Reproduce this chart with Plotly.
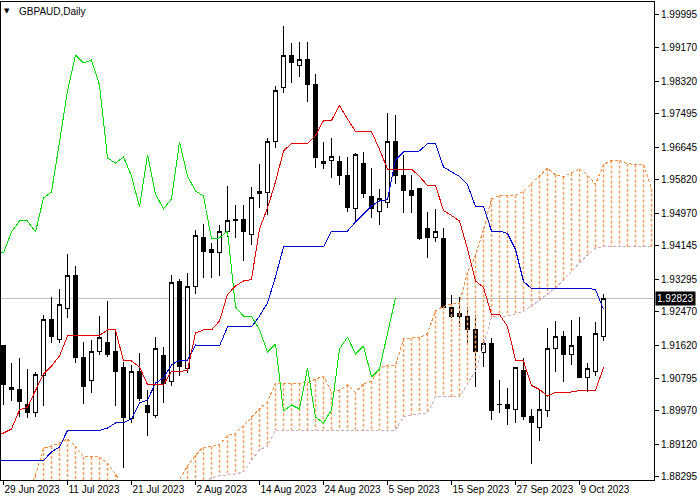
import plotly.graph_objects as go

# ---------------- data ----------------
tick_bars = [0, 8, 16, 24, 32, 40, 48, 56, 64, 72]
tick_labels = ["29 Jun 2023", "11 Jul 2023", "21 Jul 2023", "2 Aug 2023", "14 Aug 2023",
               "24 Aug 2023", "5 Sep 2023", "15 Sep 2023", "27 Sep 2023", "9 Oct 2023"]

price_ticks = [1.99995, 1.99170, 1.98320, 1.97495, 1.96645, 1.95820, 1.94970, 1.94145,
               1.93295, 1.92470, 1.91620, 1.90795, 1.89970, 1.89120, 1.88295]

opens = [1.91607, 1.90543, 1.90517, 1.90137, 1.89909, 1.90847, 1.92291, 1.91784, 1.92545, 1.93406,
         1.91303, 1.90745, 1.91455, 1.91708, 1.91480, 1.91050, 1.89757, 1.90948, 1.90087, 1.89833,
         1.91354, 1.90695, 1.93229, 1.91024, 1.93102, 1.94344, 1.94040, 1.93964, 1.94496, 1.94800,
         1.94800, 1.94420, 1.95459, 1.95484, 1.96777, 1.98170, 1.98956, 1.98703, 1.98855, 1.98221,
         1.96270, 1.96295, 1.96270, 1.95940, 1.95079, 1.96244, 1.95383, 1.95003, 1.95231, 1.96777,
         1.95915, 1.95560, 1.95586, 1.94597, 1.94344, 1.94319, 1.92595, 1.92443, 1.92342, 1.92013,
         1.91430, 1.91658, 1.90137, 1.90112, 1.89985, 1.90974, 1.89808, 1.89554, 1.89960, 1.91531,
         1.91835, 1.91404, 1.91835, 1.90821, 1.90948, 1.91860]
highs = [1.91632, 1.91176, 1.91303, 1.91024, 1.90948, 1.92393, 1.92849, 1.93051, 1.93938, 1.93634,
         1.91708, 1.91759, 1.92367, 1.92747, 1.92038, 1.91202, 1.91126, 1.91430, 1.90492, 1.91835,
         1.91582, 1.93406, 1.93305, 1.93457, 1.94547, 1.94699, 1.94217, 1.94673, 1.95662, 1.95180,
         1.95180, 1.95636, 1.96219, 1.96878, 1.98196, 1.99716, 1.99285, 1.99311, 1.99311, 1.98500,
         1.96777, 1.96878, 1.96422, 1.96397, 1.96498, 1.96523, 1.96118, 1.95586, 1.97511, 1.97461,
         1.96447, 1.95940, 1.95611, 1.95003, 1.95079, 1.94597, 1.92899, 1.92849, 1.92595, 1.92393,
         1.91784, 1.91810, 1.90745, 1.90543, 1.91075, 1.91303, 1.90011, 1.90492, 1.92063, 1.92241,
         1.91987, 1.92266, 1.92342, 1.91176, 1.92215, 1.92925]
lows = [1.90112, 1.90213, 1.89808, 1.89783, 1.89808, 1.90087, 1.91683, 1.91683, 1.92317, 1.91176,
        1.90137, 1.90416, 1.91379, 1.91328, 1.90087, 1.88515, 1.89656, 1.90213, 1.89326, 1.89783,
        1.90163, 1.90593, 1.90847, 1.90923, 1.92925, 1.93330, 1.93330, 1.93381, 1.94369, 1.94344,
        1.93761, 1.94167, 1.95104, 1.94927, 1.96625, 1.98018, 1.98272, 1.98424, 1.97790, 1.96118,
        1.96092, 1.95864, 1.95687, 1.95003, 1.94775, 1.95358, 1.94851, 1.94673, 1.95104, 1.95712,
        1.94977, 1.94977, 1.94293, 1.93837, 1.94243, 1.92570, 1.92317, 1.92089, 1.91683, 1.90568,
        1.91075, 1.89732, 1.89909, 1.89605, 1.89656, 1.89732, 1.88617, 1.89200, 1.89808, 1.90948,
        1.90695, 1.91126, 1.90796, 1.90441, 1.90847, 1.91734]
closes = [1.90619, 1.90492, 1.90188, 1.89909, 1.90872, 1.92291, 1.91835, 1.92671, 1.93406, 1.91303,
          1.90568, 1.91455, 1.91810, 1.91379, 1.90948, 1.89783, 1.90948, 1.90289, 1.89909, 1.91531,
          1.90644, 1.93204, 1.91075, 1.93102, 1.94395, 1.93989, 1.93964, 1.94496, 1.94775, 1.94775,
          1.94496, 1.95358, 1.95510, 1.96777, 1.98069, 1.98981, 1.98779, 1.98855, 1.98221, 1.96371,
          1.96244, 1.96397, 1.95915, 1.95129, 1.96447, 1.95459, 1.95079, 1.95332, 1.96777, 1.95915,
          1.95535, 1.95408, 1.94319, 1.94344, 1.94521, 1.92595, 1.92367, 1.92367, 1.92013, 1.91455,
          1.91658, 1.89960, 1.90112, 1.90011, 1.91050, 1.89808, 1.89656, 1.89985, 1.91531, 1.91835,
          1.91404, 1.91607, 1.90821, 1.91024, 1.91936, 1.92823]

# Tenkan-sen / Kijun-sen, bars -1 .. 75
tenkan = [1.89377, 1.89402, 1.89504, 1.89985, 1.90061, 1.90492, 1.90897, 1.91100, 1.91354,
          1.91860, 1.91860, 1.91860, 1.91860, 1.91873, 1.92013, 1.92013, 1.91227, 1.91227, 1.91075,
          1.90631, 1.90631, 1.90631, 1.90961, 1.90961, 1.90986, 1.91936, 1.92013, 1.92013, 1.92241,
          1.92912, 1.93128, 1.93254, 1.93292, 1.94572, 1.95104, 1.95763, 1.96549, 1.96739, 1.96739,
          1.96739, 1.96941, 1.97321, 1.97321, 1.97702, 1.97359, 1.97043, 1.97043, 1.97043, 1.96587,
          1.96092, 1.96092, 1.96092, 1.96092, 1.95902, 1.95674, 1.95674, 1.95041, 1.94914, 1.94775,
          1.94065, 1.93254, 1.93090, 1.92405, 1.92405, 1.92101, 1.91252, 1.91227, 1.90606, 1.90505,
          1.90340, 1.90429, 1.90429, 1.90441, 1.90479, 1.90479, 1.90479, 1.91062]
kijun = [1.88705, 1.88705, 1.88705, 1.88705, 1.88705, 1.88705, 1.88705, 1.88921, 1.89048,
         1.89466, 1.89466, 1.89466, 1.89466, 1.89466, 1.89529, 1.89656, 1.89668, 1.89757, 1.90163,
         1.90239, 1.90669, 1.90796, 1.91126, 1.91252, 1.91252, 1.91632, 1.91607, 1.91607, 1.91607,
         1.92089, 1.92089, 1.92089, 1.92089, 1.92367, 1.92697, 1.93356, 1.94116, 1.94116, 1.94116,
         1.94116, 1.94116, 1.94116, 1.94521, 1.94521, 1.94521, 1.94749, 1.94939, 1.95155, 1.95282,
         1.95320, 1.96320, 1.96523, 1.96523, 1.96549, 1.96739, 1.96739, 1.96143, 1.96016, 1.95902,
         1.95700, 1.95142, 1.95142, 1.94521, 1.94521, 1.94458, 1.94052, 1.93242, 1.93064, 1.93064,
         1.93064, 1.93064, 1.93064, 1.93064, 1.93064, 1.93064, 1.93039, 1.92532]

# Senkou span A / B as plotted (already shifted forward), bars -1 .. 81
span_a = [1.87578, 1.87578, 1.87628, 1.87705, 1.87831, 1.88338, 1.89022, 1.89073, 1.89149, 1.89250,
          1.89073, 1.88794, 1.88794, 1.88794, 1.88642, 1.88363, 1.88009, 1.87831, 1.87755, 1.87755,
          1.87806, 1.87882, 1.88009, 1.88211, 1.88566, 1.88845,
          1.89041, 1.89054, 1.89105, 1.89345, 1.89383, 1.89599, 1.89801, 1.90011, 1.90201,
          1.90663, 1.90663, 1.90663, 1.90663, 1.90670, 1.90771, 1.90835, 1.90448, 1.90492, 1.90619,
          1.90435, 1.90650, 1.90714, 1.91044, 1.91107, 1.91119, 1.91784, 1.91810, 1.91810, 1.91924,
          1.92501, 1.92609, 1.92672, 1.92691, 1.93470, 1.93901, 1.94560, 1.95333, 1.95428, 1.95428,
          1.95428, 1.95529, 1.95719, 1.95921, 1.96112, 1.95940, 1.95896, 1.95991, 1.96099, 1.95935,
          1.95706, 1.96206, 1.96308, 1.96308, 1.96226, 1.96207, 1.96207, 1.95592]
span_b = [1.87451, 1.87451, 1.87451, 1.87451, 1.87451, 1.87451, 1.87451, 1.87451, 1.87451, 1.87451,
          1.87451, 1.87451, 1.87451, 1.87451, 1.87451, 1.87451, 1.87451, 1.87451, 1.87451, 1.87451,
          1.87451, 1.87451, 1.87451, 1.87451, 1.87451, 1.87451,
          1.88161, 1.88262, 1.88313, 1.88338, 1.88363, 1.88414, 1.88718, 1.88972, 1.89073,
          1.89478, 1.89478, 1.89478, 1.89478, 1.89478, 1.89478, 1.89478, 1.89478, 1.89478, 1.89478,
          1.89478, 1.89478, 1.89478, 1.89478, 1.89478, 1.89478, 1.89808, 1.89858, 1.89884, 1.89909,
          1.90315, 1.90315, 1.90315, 1.90315, 1.90644, 1.90974, 1.91632, 1.92342, 1.92367, 1.92367,
          1.92418, 1.92494, 1.92621, 1.92773, 1.92925, 1.93077, 1.93280, 1.93482, 1.93710, 1.93913,
          1.94090, 1.94116, 1.94116, 1.94116, 1.94116, 1.94116, 1.94116, 1.94116]

# ---------------- figure ----------------
FONT = "Liberation Sans"
bars = list(range(len(opens)))
line_x = list(range(-1, len(tenkan) - 1))
cloud_x = list(range(-1, len(span_a) - 1))
chikou_x = list(range(-1, len(closes) - 26))
chikou_y = closes[25:]

fig = go.Figure()

fig.add_trace(go.Candlestick(
    x=bars, open=opens, high=highs, low=lows, close=closes,
    increasing=dict(line=dict(color="black", width=1), fillcolor="white"),
    decreasing=dict(line=dict(color="black", width=1), fillcolor="black"),
    whiskerwidth=0, hoverinfo="skip", showlegend=False))

# Kumo hatching
hx, hy = [], []
for k, a, b in zip(cloud_x, span_a, span_b):
    hx += [k, k, None]
    hy += [a, b, None]
fig.add_trace(go.Scatter(x=hx, y=hy, mode="lines", hoverinfo="skip", showlegend=False,
                         uid="kumohatch",
                         line=dict(color="rgb(243,160,98)", width=1.5, dash="3px,2px")))
fig.add_trace(go.Scatter(x=cloud_x, y=span_a, mode="lines", hoverinfo="skip", showlegend=False,
                         line=dict(color="rgb(240,140,60)", width=1, dash="3px,2px")))
fig.add_trace(go.Scatter(x=cloud_x, y=span_b, mode="lines", hoverinfo="skip", showlegend=False,
                         line=dict(color="#D0A8C0", width=1, dash="3px,2px")))

fig.add_trace(go.Scatter(x=chikou_x, y=chikou_y, mode="lines", hoverinfo="skip", showlegend=False,
                         line=dict(color="#00DD00", width=1)))
fig.add_trace(go.Scatter(x=line_x, y=kijun, mode="lines", hoverinfo="skip", showlegend=False,
                         line=dict(color="#0000D0", width=1)))
fig.add_trace(go.Scatter(x=line_x, y=tenkan, mode="lines", hoverinfo="skip", showlegend=False,
                         line=dict(color="#E00000", width=1)))

fig.add_hline(y=closes[-1], line=dict(color="#C0C0C0", width=1), layer="below")

fig.add_annotation(x=1, xref="paper", y=closes[-1], yref="y", xanchor="left", yanchor="middle",
                   xshift=1, text=f"{closes[-1]:.5f}", showarrow=False, bgcolor="black",
                   borderpad=1, font=dict(family=FONT, size=10, color="white"))
fig.add_annotation(x=0.0245, xref="paper", y=0.981, yref="paper", xanchor="left", yanchor="middle",
                   text="GBPAUD,Daily", showarrow=False, font=dict(family=FONT, size=10, color="black"))
fig.add_annotation(x=0.0099, xref="paper", y=0.981, yref="paper", xanchor="center", yanchor="middle",
                   text="▼", showarrow=False, font=dict(family="DejaVu Sans", size=7, color="black"))

fig.update_layout(
    width=700, height=500,
    margin=dict(l=1, r=46, t=2, b=20),
    paper_bgcolor="white", plot_bgcolor="white",
    showlegend=False, boxgap=0.42,
    font=dict(family=FONT, size=10, color="black"),
    xaxis=dict(range=[-0.3125, 81.3125], showgrid=False, zeroline=False,
               showline=True, linecolor="black", linewidth=1, mirror=True,
               ticks="outside", ticklen=4, tickcolor="black", tickangle=0,
               tickvals=tick_bars, ticktext=tick_labels, ticklabelposition="outside right",
               tickfont=dict(family=FONT, size=10, color="black"),
               rangeslider=dict(visible=False), fixedrange=True),
    yaxis=dict(range=[1.88211, 2.00324], side="right", showgrid=False, zeroline=False,
               showline=True, linecolor="black", linewidth=1, mirror=True,
               ticks="outside", ticklen=4, tickcolor="black",
               tickvals=price_ticks, ticktext=[f"{v:.5f}" for v in price_ticks],
               tickfont=dict(family=FONT, size=10, color="black"), fixedrange=True),
)

post = ("document.body.style.margin='0';document.body.style.padding='0';"
        "document.body.style.overflow='hidden';"
        "document.querySelectorAll('.main-svg path').forEach(function(p){"
        "if(!p.closest('.tracekumohatch')){p.style.shapeRendering='crispEdges';}});")

fig.write_html("out.html", post_script=post, config={"displayModeBar": False, "staticPlot": True})
